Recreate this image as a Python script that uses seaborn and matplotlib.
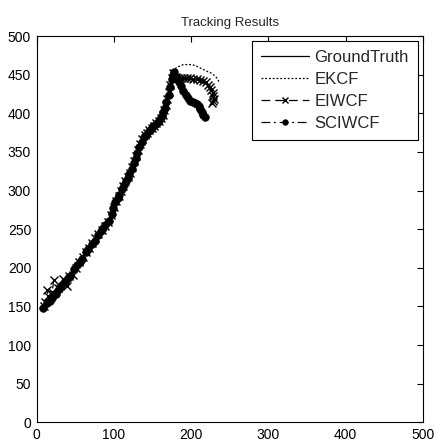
import matplotlib
matplotlib.use("Agg")
import matplotlib.pyplot as plt
import seaborn as sns
import pandas as pd

# ---- data ----
gt_x = [8, 12, 17, 21, 24, 28, 32, 35, 39, 43, 47, 51, 56, 60, 64, 68, 71, 75, 78, 82,
        86, 90, 93, 96, 99, 101, 104, 107, 110, 112, 115, 118, 121, 123, 125, 127, 129, 132, 135, 138,
        141, 144, 147, 150, 153, 156, 159, 162, 164, 166, 168, 170, 172, 174, 176, 177,
        179, 181, 183, 186, 189, 192, 195, 198, 201, 204, 207, 210, 212, 214, 216, 218]
gt_y = [149, 153, 158, 162, 165, 171, 177, 181, 186, 191, 197, 202, 208, 213, 219, 225, 230, 236, 241, 247,
        251, 257, 260, 267, 276, 283, 289, 295, 301, 305, 311, 317, 322, 327, 334, 341, 348, 355, 362, 369,
        373, 376, 379, 382, 385, 388, 391, 395, 400, 406, 413, 420, 430, 440, 448, 454,
        449, 445, 441, 436, 431, 426, 421, 417, 415, 414, 413, 410, 407, 403, 399, 396]

ekcf_tail_x = [179, 181, 185, 190, 195, 201, 207, 213, 219, 226, 230, 233, 235, 237]
ekcf_tail_y = [457, 459, 461, 463, 463, 463, 461, 458, 455, 452, 449, 446, 443, 439]

eiwcf_x = [9, 11, 15, 13, 20, 22, 28, 34, 39, 42, 47, 51, 55, 60, 64, 68, 72, 76, 80, 84,
           88, 92, 96, 100, 103, 106, 109, 112, 115, 118, 121, 124, 126, 128, 131, 134, 137, 140, 143, 146,
           149, 152, 155, 158, 161, 163, 165, 167, 169, 171, 173, 175, 177,
           180, 183, 187, 191, 195, 199, 203, 207, 211, 215, 219, 222, 224, 226, 228, 229, 230, 228, 227]
eiwcf_y = [150, 156, 163, 171, 168, 184, 174, 186, 176, 190, 191, 200, 207, 214, 220, 226, 232, 238, 244, 249,
           254, 259, 268, 279, 287, 293, 299, 306, 312, 318, 323, 331, 338, 345, 353, 360, 367, 372, 375, 378,
           381, 384, 387, 390, 394, 398, 404, 411, 418, 427, 437, 446, 452,
           447, 445, 445, 446, 445, 445, 444, 444, 443, 442, 441, 437, 434, 430, 426, 422, 419, 416, 413]

sciwcf_x = [8, 13, 17, 20, 25, 29, 32, 36, 40, 43, 48, 52, 56, 59, 64, 67, 72, 75, 79, 83,
            86, 89, 93, 97, 99, 102, 105, 107, 110, 113, 116, 118, 120, 123, 126, 128, 130, 133, 136, 139,
            141, 145, 148, 151, 154, 157, 160, 162, 164, 166, 168, 171, 173, 175, 176, 178,
            180, 182, 184, 187, 190, 193, 196, 199, 202, 205, 208, 210, 212, 214, 216, 218]
sciwcf_y = [148, 154, 157, 161, 166, 172, 176, 182, 187, 190, 198, 203, 207, 212, 220, 224, 231, 235, 242, 248,
            252, 256, 261, 269, 277, 285, 290, 294, 302, 307, 312, 316, 321, 328, 336, 342, 349, 356, 363, 369,
            372, 377, 380, 383, 386, 389, 392, 396, 401, 407, 414, 424, 434, 444, 450, 453,
            447, 444, 440, 435, 429, 424, 420, 416, 414, 413, 412, 409, 406, 402, 398, 395]

x_ticks = [0, 100, 200, 300, 400, 500]
y_ticks = [0, 50, 100, 150, 200, 250, 300, 350, 400, 450, 500]

n_peak = gt_x.index(177) + 1
ekcf_x = gt_x[:n_peak] + ekcf_tail_x
ekcf_y = gt_y[:n_peak] + ekcf_tail_y

df_gt = pd.DataFrame({"x": gt_x, "y": gt_y})
df_ekcf = pd.DataFrame({"x": ekcf_x, "y": ekcf_y})
df_eiwcf = pd.DataFrame({"x": eiwcf_x, "y": eiwcf_y})
df_sciwcf = pd.DataFrame({"x": sciwcf_x, "y": sciwcf_y})

sns.set_style("white")
plt.rcParams["font.family"] = ["Liberation Sans", "DejaVu Sans"]

fig = plt.figure(figsize=(4.36, 4.44), dpi=100)
ax = fig.add_axes([0.0842, 0.0489, 0.8853, 0.870])

sns.lineplot(data=df_gt, x="x", y="y", sort=False, estimator=None, ax=ax,
             color="black", linewidth=0.9, linestyle="-", label="GroundTruth")
sns.lineplot(data=df_ekcf, x="x", y="y", sort=False, estimator=None, ax=ax,
             color="black", linewidth=0.9, linestyle=(0, (1.5, 1.5)), label="EKCF")
sns.lineplot(data=df_eiwcf, x="x", y="y", sort=False, estimator=None, ax=ax,
             color="black", linewidth=0.9, linestyle=(0, (7, 4)), marker="x",
             markersize=5.5, markeredgewidth=1.0, markeredgecolor="black",
             label="EIWCF")
sns.lineplot(data=df_sciwcf, x="x", y="y", sort=False, estimator=None, ax=ax,
             color="black", linewidth=0.9, linestyle=(0, (7, 3, 1.5, 3)), marker="o",
             markersize=5.5, markeredgewidth=0.5, markerfacecolor="black",
             markeredgecolor="black", label="SCIWCF")

ax.set_xlim(0, 500)
ax.set_ylim(0, 500)
ax.set_xticks(x_ticks)
ax.set_yticks(y_ticks)
ax.set_xlabel("")
ax.set_ylabel("")
ax.set_title("Tracking Results", fontsize=9.5, pad=7)
ax.tick_params(direction="in", length=4, width=0.8, top=True, right=True,
               labelsize=10, colors="black")
ax.tick_params(axis="x", pad=4)
ax.tick_params(axis="y", pad=4)
for s in ax.spines.values():
    s.set_visible(True)
    s.set_color("black")
    s.set_linewidth(0.8)

leg = ax.legend(loc="upper right", fontsize=12, frameon=True, fancybox=False,
                framealpha=1, edgecolor="black", handlelength=2.9,
                handletextpad=0.3, labelspacing=0.42, borderpad=0.55,
                borderaxespad=0.3, numpoints=1)
leg.get_frame().set_linewidth(0.8)
for h in leg.legend_handles:
    h.set_markersize(4)

fig.savefig("out.png", dpi=100, facecolor="white")
